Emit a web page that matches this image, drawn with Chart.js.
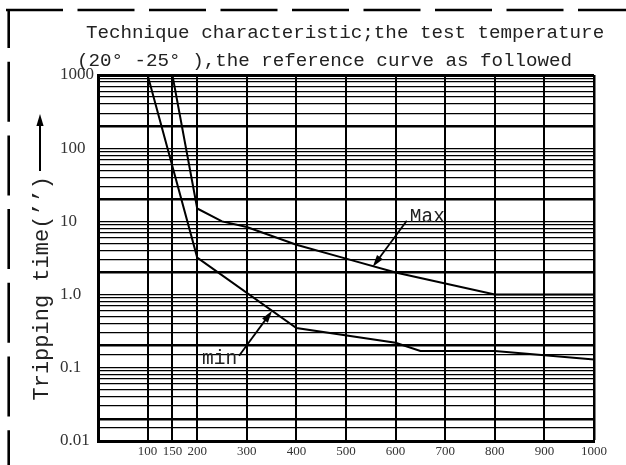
<!DOCTYPE html>
<html>
<head>
<meta charset="utf-8">
<script src="https://cdn.jsdelivr.net/npm/chart.js@4/dist/chart.umd.min.js"></script>
<style>
html,body{margin:0;padding:0;background:#fff;}
#wrap{width:626px;height:465px;position:relative;}
canvas{display:block;}
</style>
</head>
<body>
<div id="wrap"><canvas id="c" width="626" height="465"></canvas></div>
<script>
// ---------- data ----------
const titleLines = ['Technique characteristic;the test temperature', '(20° -25° ),the reference curve as followed'];
const yAxisTitle = 'Tripping time(’’)';
const xTickValues = [100, 150, 200, 300, 400, 500, 600, 700, 800, 900, 1000];
const xTickLabels = ['100', '150', '200', '300', '400', '500', '600', '700', '800', '900', '1000'];
const yDecades = [0.01, 0.1, 1, 10, 100, 1000];
const yDecadeLabels = ['0.01', '0.1', '1.0', '10', '100', '1000'];
const ySignificands = [1, 2, 3, 4, 5, 6, 7, 8, 9];
const yExtraGrid = [0.015, 0.15];
const minCurrent = [100, 200, 400, 600, 650, 800, 1000];
const minTime = [1000, 3.2, 0.35, 0.22, 0.17, 0.17, 0.13];
const maxCurrent = [150, 200, 250, 300, 400, 500, 600, 800, 1000];
const maxTime = [1000, 15, 10, 8.4, 4.8, 3.1, 2.0, 1.0, 1.0];
const noteText = ['Max', 'min'];
const noteTipCurrent = [554, 351];
const noteTipTime = [2.4, 0.6];

// gridline values built from the arrays above
const yGridValues = [];
for (let i = 0; i < yDecades.length - 1; i++) {
  ySignificands.forEach(s => yGridValues.push(s * yDecades[i]));
}
yGridValues.push(yDecades[yDecades.length - 1]);
yExtraGrid.forEach(v => yGridValues.push(v));
yGridValues.sort((a, b) => a - b);

function isTwoTimes(v) {
  const m = v / Math.pow(10, Math.floor(Math.log10(v) + 1e-9));
  return Math.abs(m - 2) < 1e-6;
}

const MONO = "'Liberation Mono', 'DejaVu Sans Mono', monospace";

function drawArrow(ctx, x1, y1, x2, y2) {
  const ang = Math.atan2(y2 - y1, x2 - x1);
  const hl = 12, hw = 3.6;
  ctx.beginPath();
  ctx.moveTo(x1, y1);
  ctx.lineTo(x2 - Math.cos(ang) * hl * 0.6, y2 - Math.sin(ang) * hl * 0.6);
  ctx.stroke();
  ctx.beginPath();
  ctx.moveTo(x2, y2);
  ctx.lineTo(x2 - Math.cos(ang) * hl + Math.sin(ang) * hw, y2 - Math.sin(ang) * hl - Math.cos(ang) * hw);
  ctx.lineTo(x2 - Math.cos(ang) * hl - Math.sin(ang) * hw, y2 - Math.sin(ang) * hl + Math.cos(ang) * hw);
  ctx.closePath();
  ctx.fill();
}

const decor = {
  id: 'decor',
  afterDraw(chart) {
    const ctx = chart.ctx;
    const area = chart.chartArea;
    const xs = chart.scales.x, ys = chart.scales.y;
    ctx.save();
    // dashed frame (top and left)
    ctx.strokeStyle = '#000';
    ctx.lineWidth = 2.6;
    ctx.setLineDash([57, 14.5]);
    ctx.lineDashOffset = 0;
    ctx.beginPath();
    ctx.moveTo(6, 10);
    ctx.lineTo(626, 10);
    ctx.stroke();
    ctx.setLineDash([60, 13.7]);
    ctx.lineDashOffset = 22;
    ctx.beginPath();
    ctx.moveTo(8.7, 10);
    ctx.lineTo(8.7, 465);
    ctx.stroke();
    ctx.setLineDash([]);

    // title
    ctx.fillStyle = '#222';
    ctx.font = '19.2px ' + MONO;
    ctx.textAlign = 'left';
    ctx.textBaseline = 'alphabetic';
    ctx.fillText(titleLines[0], 86, 37.5);
    ctx.fillText(titleLines[1], 77, 65.5);

    // y axis title with arrow
    ctx.save();
    ctx.translate(48, area.bottom - 40.5);
    ctx.rotate(-Math.PI / 2);
    ctx.font = '22px ' + MONO;
    ctx.fillText(yAxisTitle, 0, 0);
    ctx.restore();
    ctx.strokeStyle = '#000';
    ctx.fillStyle = '#000';
    ctx.lineWidth = 2;
    drawArrow(ctx, 40, 171, 40, 114);

    // annotations
    ctx.lineWidth = 1.8;
    const tipMax = {x: xs.getPixelForValue(noteTipCurrent[0]), y: ys.getPixelForValue(noteTipTime[0])};
    const tailMax = {x: tipMax.x + 34, y: tipMax.y - 46};
    drawArrow(ctx, tailMax.x, tailMax.y, tipMax.x, tipMax.y);
    const tipMin = {x: xs.getPixelForValue(noteTipCurrent[1]), y: ys.getPixelForValue(noteTipTime[1])};
    const tailMin = {x: tipMin.x - 33, y: tipMin.y + 45};
    drawArrow(ctx, tailMin.x, tailMin.y, tipMin.x, tipMin.y);
    ctx.fillStyle = '#222';
    ctx.font = '19.5px ' + MONO;
    ctx.textBaseline = 'middle';
    ctx.textAlign = 'left';
    ctx.fillText(noteText[0], tailMax.x + 3, tailMax.y - 4);
    ctx.textAlign = 'right';
    ctx.fillText(noteText[1], tailMin.x - 2, tailMin.y + 3);
    ctx.restore();
  }
};

new Chart(document.getElementById('c'), {
  type: 'line',
  data: {
    datasets: [
      {
        label: 'min',
        data: minCurrent.map((x, i) => ({x: x, y: minTime[i]})),
        borderColor: '#000', borderWidth: 2, pointRadius: 0, tension: 0, fill: false
      },
      {
        label: 'Max',
        data: maxCurrent.map((x, i) => ({x: x, y: maxTime[i]})),
        borderColor: '#000', borderWidth: 2, pointRadius: 0, tension: 0, fill: false
      }
    ]
  },
  options: {
    responsive: false,
    animation: false,
    devicePixelRatio: 1,
    layout: {padding: {left: 60, right: 32, top: 75, bottom: 0}},
    plugins: {legend: {display: false}, title: {display: false}, tooltip: {enabled: false}},
    scales: {
      x: {
        type: 'linear', min: 0, max: 1000,
        afterBuildTicks: s => { s.ticks = xTickValues.map(v => ({value: v})); },
        afterFit: s => { s.height = 24; },
        ticks: {autoSkip: false, maxRotation: 0, padding: 3, color: '#333',
                font: {family: "'Liberation Serif', serif", size: 13},
                callback: v => {
                  const i = xTickValues.indexOf(v);
                  return i >= 0 ? xTickLabels[i] : '';
                }},
        grid: {color: '#000', drawTicks: false,
               lineWidth: c => (c.tick && c.tick.value === 1000) ? 2.5 : 2},
        border: {display: true, color: '#000', width: 3}
      },
      y: {
        type: 'logarithmic', min: 0.01, max: 1000,
        afterBuildTicks: s => { s.ticks = yGridValues.map(v => ({value: v})); },
        afterFit: s => { s.width = 38; },
        ticks: {
          autoSkip: false, crossAlign: 'far', padding: 4, color: '#333',
          font: {family: "'Liberation Serif', serif", size: 17},
          callback: v => {
            const i = yDecades.findIndex(d => Math.abs(d - v) / d < 1e-9);
            return i >= 0 ? yDecadeLabels[i] : '';
          }
        },
        grid: {
          color: '#000', drawTicks: false,
          lineWidth: c => {
            if (!c.tick) return 1.3;
            const v = c.tick.value;
            if (v >= 999) return 3;
            return isTwoTimes(v) ? 2.6 : 1.3;
          }
        },
        border: {display: true, color: '#000', width: 3}
      }
    }
  },
  plugins: [decor]
});
</script>
</body>
</html>
